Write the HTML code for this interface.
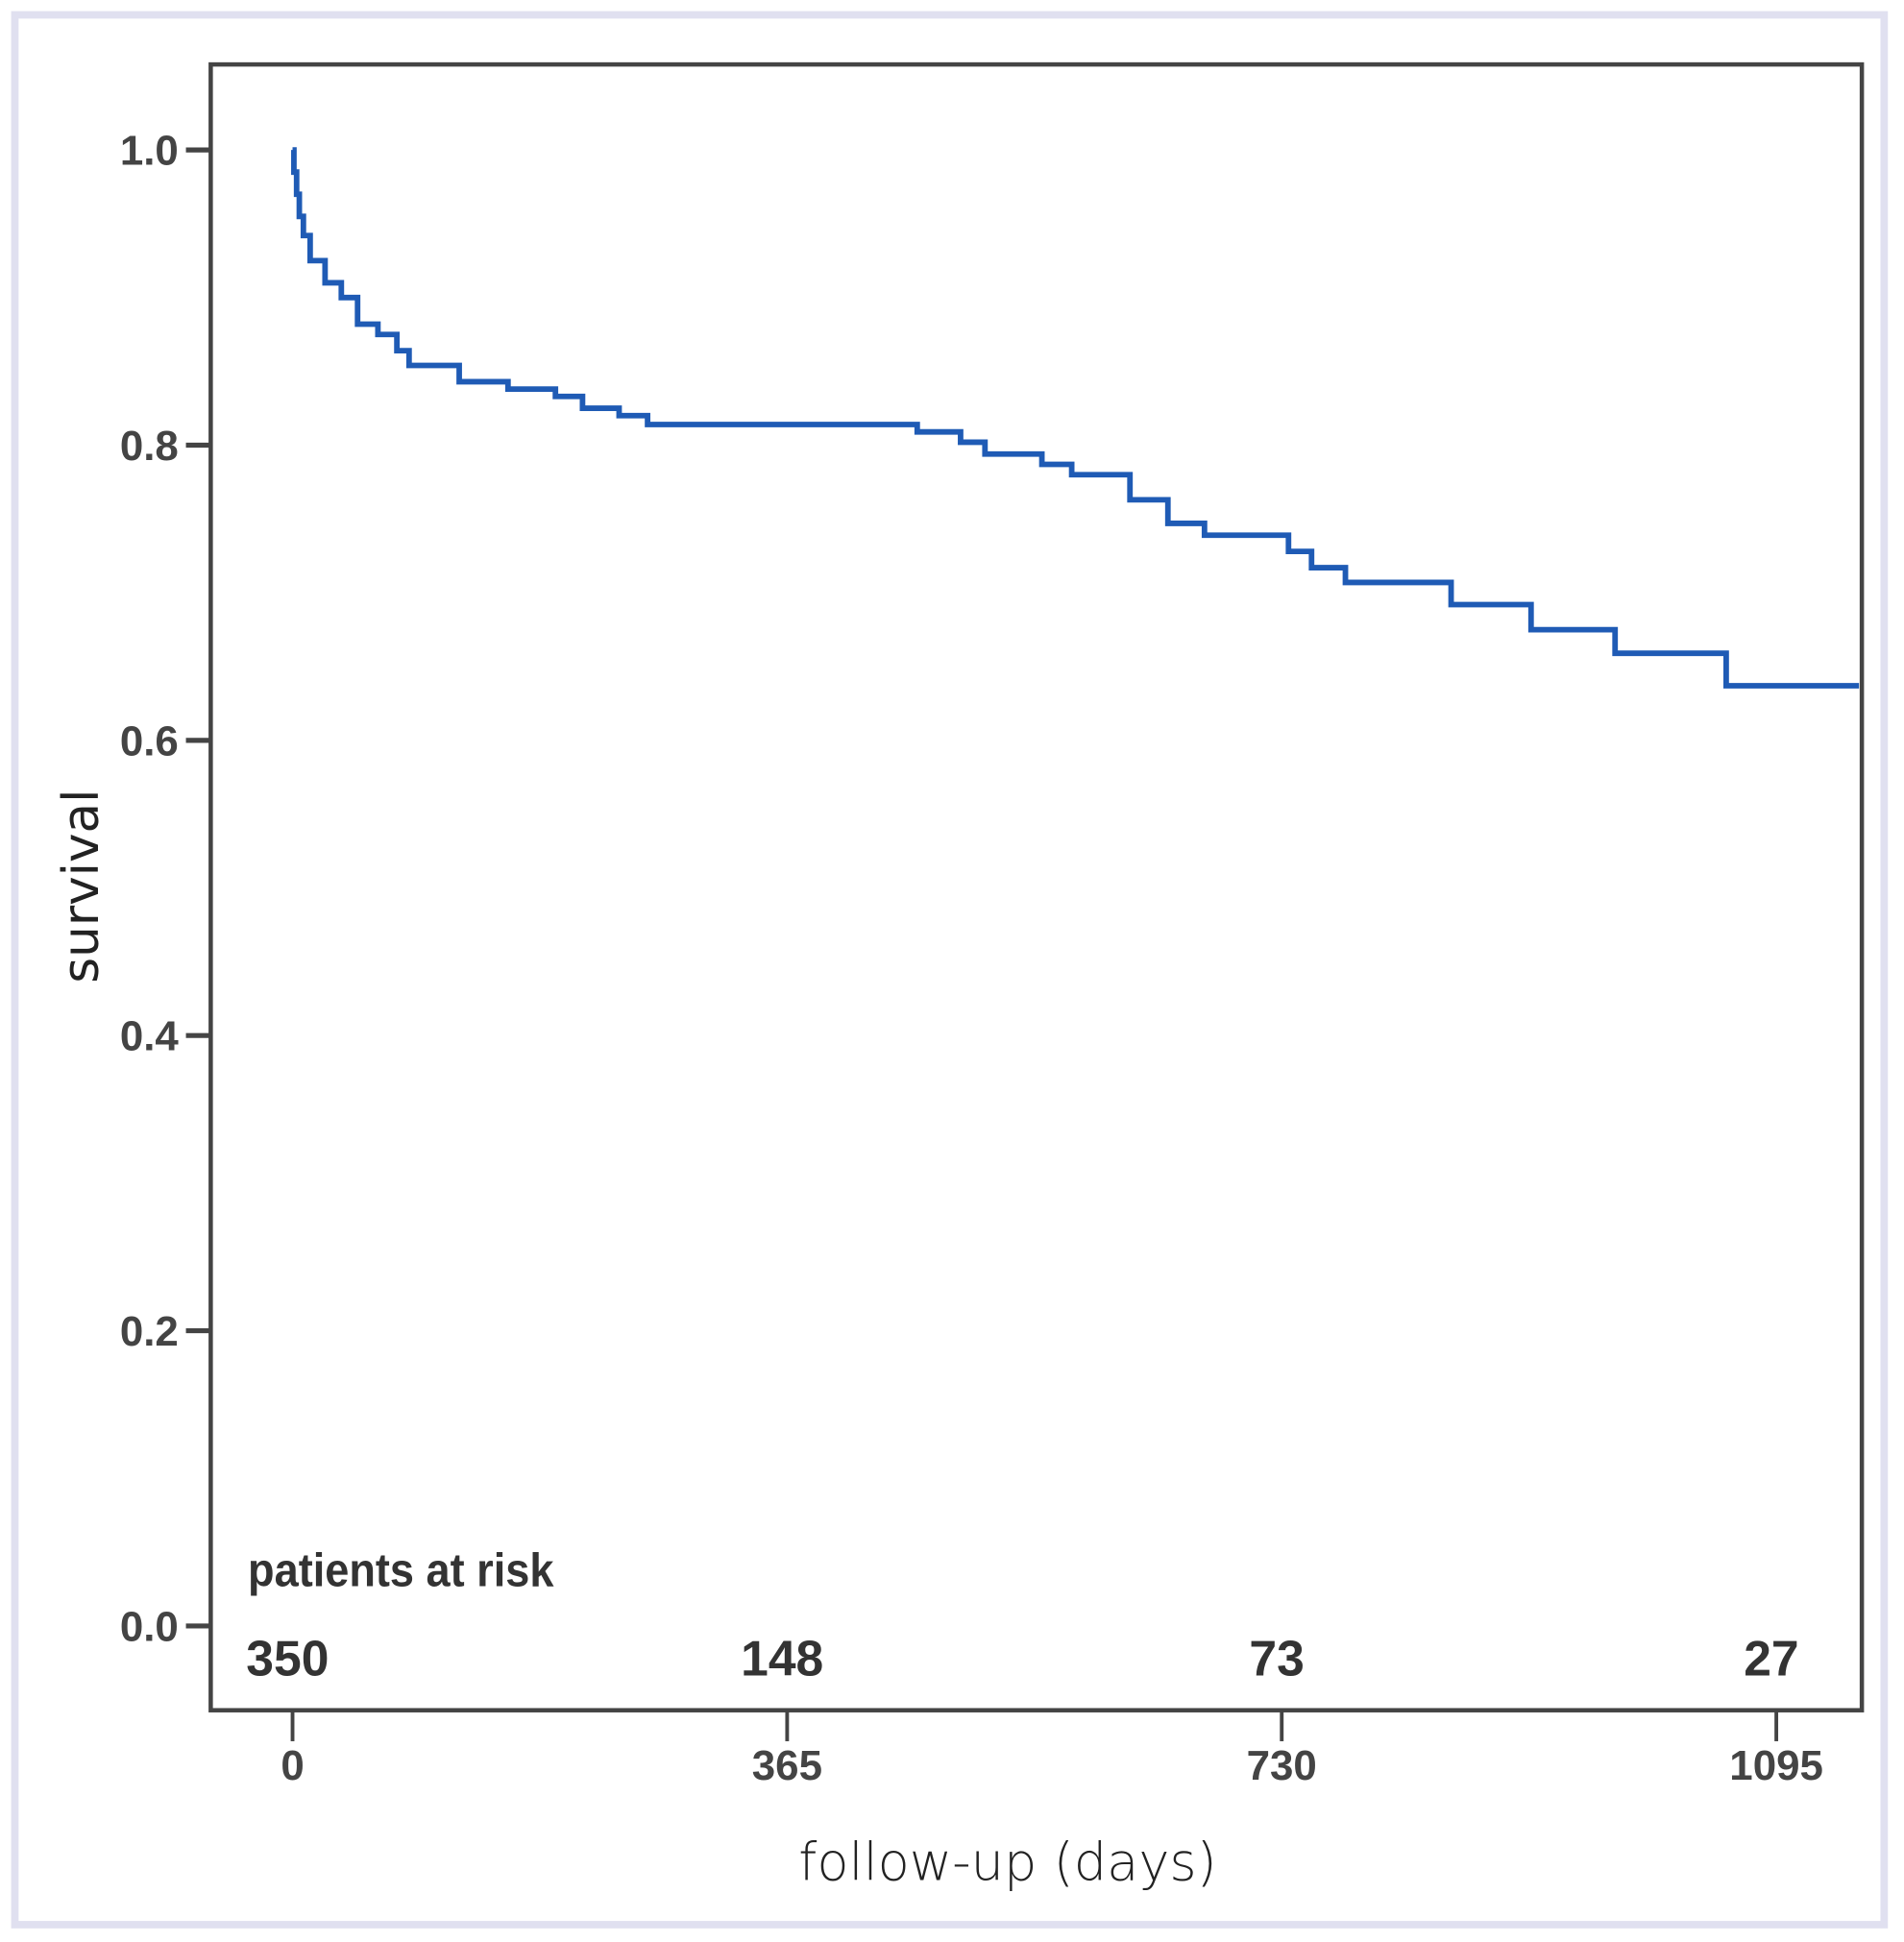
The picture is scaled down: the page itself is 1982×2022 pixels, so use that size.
<!DOCTYPE html>
<html><head><meta charset="utf-8"><style>
html,body{margin:0;padding:0;background:#fff;}
svg{display:block;}
</style></head><body>
<svg id="chart" width="1982" height="2022" viewBox="0 0 1536 1567" preserveAspectRatio="none" xmlns="http://www.w3.org/2000/svg">
<rect x="12" y="12" width="1508" height="1541" fill="#fff" stroke="#e0e0f0" stroke-width="6"/>
<rect x="170" y="52" width="1332" height="1328" fill="#fff" stroke="#444" stroke-width="3.5"/>
<g id="yaxis"></g>
<g id="xaxis"></g>
<g id="risk"></g>
<text x="200" y="1280" font-family="Liberation Sans, sans-serif" font-weight="bold" font-size="38" fill="#333" transform="scale(0.92,1)" transform-origin="200 1280">patients at risk</text>
<text x="813" y="1517" text-anchor="middle" font-family="DejaVu Sans, sans-serif" font-weight="200" font-size="42" fill="#222">follow-up (days)</text>
<text x="0" y="0" text-anchor="middle" font-family="DejaVu Sans, sans-serif" font-size="40" fill="#222" transform="translate(79,715) rotate(-90)">survival</text>
<path id="curve" fill="none" stroke="#1f5bb5" stroke-width="4.5"/>
</svg>
<script>
const yTicks = [0, 0.2, 0.4, 0.6, 0.8, 1.0];
const yTickLabels = ["0.0","0.2","0.4","0.6","0.8","1.0"];
const xTicks = [0, 365, 730, 1095];
const xTickLabels = ["0","365","730","1095"];
const riskCounts = ["350","148","73","27"];
const days = [0,1,3,5,8,13,24,36,48,63,77,86,123,159,194,214,241,262,461,493,511,553,575,618,646,673,735,752,777,855,914,976,1058];
const survival = [1.0,0.985,0.97,0.955,0.942,0.925,0.91,0.90,0.882,0.875,0.864,0.854,0.843,0.838,0.833,0.825,0.82,0.814,0.809,0.802,0.794,0.787,0.78,0.763,0.747,0.739,0.728,0.717,0.707,0.692,0.675,0.659,0.637];
const xEnd = 1156;

const NS = "http://www.w3.org/2000/svg";
function xs(d){ return 236 + d * 399 / 365; }
function ys(v){ return 1312 - v * 1191; }
function mk(tag, attrs, parent, txt){
  const e = document.createElementNS(NS, tag);
  for (const k in attrs) e.setAttribute(k, attrs[k]);
  if (txt !== undefined) e.textContent = txt;
  parent.appendChild(e);
  return e;
}
const yg = document.getElementById('yaxis');
yTicks.forEach((t,i)=>{
  const l = mk('line',{x1:150,x2:170,y1:ys(t),y2:ys(t),stroke:'#444','stroke-width':4},yg);
  
  
  const tx = mk('text',{x:144,y:ys(t)+12,'text-anchor':'end','font-family':'Liberation Sans, sans-serif','font-weight':'bold','font-size':34,fill:'#444'},yg,yTickLabels[i]);
  
  
});
const xg = document.getElementById('xaxis');
xTicks.forEach((t,i)=>{
  const l = mk('line',{x1:xs(t),x2:xs(t),y1:1380,y2:1405,stroke:'#444','stroke-width':3},xg);
  
  
  const tx = mk('text',{x:xs(t),y:1436,'text-anchor':'middle','font-family':'Liberation Sans, sans-serif','font-weight':'bold','font-size':34,fill:'#444'},xg,xTickLabels[i]);
  
  
});
const rg = document.getElementById('risk');
riskCounts.forEach((c,i)=>{
  const tx = mk('text',{x:xs(xTicks[i])-4,y:1352,'text-anchor':'middle','font-family':'Liberation Sans, sans-serif','font-weight':'bold','font-size':40,fill:'#333'},rg,c);
  
  
});
let d = 'M' + xs(days[0]) + ' ' + ys(survival[0]);
for (let i=1;i<days.length;i++){
  d += ' H' + xs(days[i]) + ' V' + ys(survival[i]);
}
d += ' H' + xs(xEnd);
document.getElementById('curve').setAttribute('d', d);
</script>
</body></html>
